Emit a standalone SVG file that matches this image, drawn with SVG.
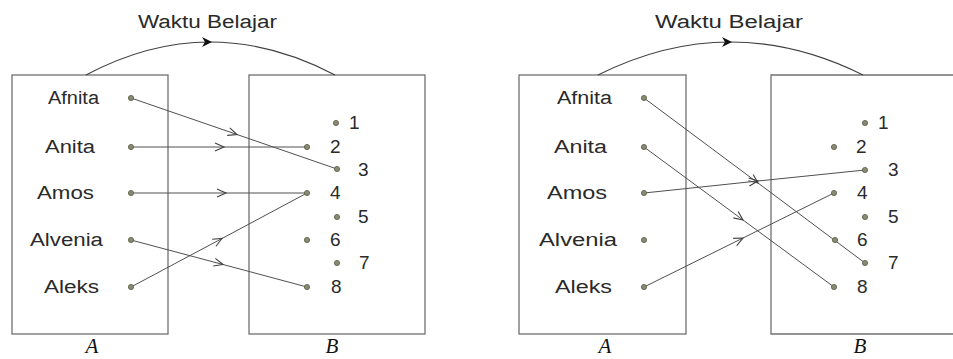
<svg xmlns="http://www.w3.org/2000/svg" width="953" height="359" viewBox="0 0 953 359">
<style>
.box{fill:none;stroke:#707070;stroke-width:1.3}
.ln{fill:none;stroke:#505050;stroke-width:1;marker-mid:url(#chev)}
.arc{fill:none;stroke:#404040;stroke-width:1.1;marker-mid:url(#tri)}
.dot{fill:#8a8a70;stroke:#5a5a48;stroke-width:0.8}
.lbl{font-family:"Liberation Sans",Arial,sans-serif;font-size:18px;fill:#2a2a2a}
.num{font-family:"Liberation Sans",Arial,sans-serif;font-size:19px;fill:#2a2a2a}
.set{font-family:"Liberation Serif","Times New Roman",serif;font-style:italic;font-size:21px;fill:#111;text-anchor:middle}
</style>
<defs>
<marker id="chev" markerUnits="userSpaceOnUse" markerWidth="12" markerHeight="12" refX="9" refY="4" orient="auto" viewBox="0 0 12 8" overflow="visible">
<path d="M0,0 L9,4 L0,8" fill="none" stroke="#404040" stroke-width="1.1"/>
</marker>
<marker id="tri" markerUnits="userSpaceOnUse" markerWidth="14" markerHeight="12" refX="8" refY="5" orient="auto" viewBox="0 0 14 10" overflow="visible">
<path d="M0,0 L10,5 L0,10 L3,5 Z" fill="#111"/>
</marker>
</defs>

<!-- LEFT DIAGRAM -->
<g id="left-setA">
<rect class="box" x="12" y="75" width="156" height="259"/>
<text class="lbl" x="48" y="104" textLength="51" lengthAdjust="spacingAndGlyphs">Afnita</text>
<text class="lbl" x="45" y="153" textLength="50" lengthAdjust="spacingAndGlyphs">Anita</text>
<text class="lbl" x="37" y="199" textLength="57" lengthAdjust="spacingAndGlyphs">Amos</text>
<text class="lbl" x="30" y="246" textLength="73" lengthAdjust="spacingAndGlyphs">Alvenia</text>
<text class="lbl" x="44" y="293" textLength="55" lengthAdjust="spacingAndGlyphs">Aleks</text>
<text class="set" x="92" y="353">A</text>
</g>
<g id="left-setB">
<rect class="box" x="249" y="75" width="176" height="259"/>
<text class="num" x="349" y="129">1</text>
<text class="num" x="330" y="153">2</text>
<text class="num" x="358" y="176">3</text>
<text class="num" x="330" y="199">4</text>
<text class="num" x="358" y="223">5</text>
<text class="num" x="330" y="246">6</text>
<text class="num" x="359" y="269">7</text>
<text class="num" x="331" y="293">8</text>
<text class="set" x="332" y="353">B</text>
</g>
<g id="left-title">
<text class="lbl" x="138" y="28" textLength="139" lengthAdjust="spacingAndGlyphs">Waktu Belajar</text>
</g>
<g id="left-connectors">
<path class="arc" d="M86,75 Q148,42 210,42 Q272,42 335,75"/>
<path class="ln" d="M131,98 L237,134.5 L337,169"/>
<path class="ln" d="M131,147 L224,147 L307,147"/>
<path class="ln" d="M131,193 L226,193 L307,193"/>
<path class="ln" d="M131,240 L223,264.5 L307,287"/>
<path class="ln" d="M131,287 L222,238.5 L307,193"/>
</g>
<g id="left-dots">
<circle class="dot" cx="131" cy="98" r="2.6"/>
<circle class="dot" cx="131" cy="147" r="2.6"/>
<circle class="dot" cx="131" cy="193" r="2.6"/>
<circle class="dot" cx="131" cy="240" r="2.6"/>
<circle class="dot" cx="131" cy="287" r="2.6"/>
<circle class="dot" cx="336" cy="123" r="2.6"/>
<circle class="dot" cx="307" cy="147" r="2.6"/>
<circle class="dot" cx="337" cy="169" r="2.6"/>
<circle class="dot" cx="307" cy="193" r="2.6"/>
<circle class="dot" cx="337" cy="217" r="2.6"/>
<circle class="dot" cx="307" cy="240" r="2.6"/>
<circle class="dot" cx="337" cy="263" r="2.6"/>
<circle class="dot" cx="307" cy="287" r="2.6"/>
</g>

<!-- RIGHT DIAGRAM -->
<g id="right-setA">
<rect class="box" x="519" y="75" width="167" height="259"/>
<text class="lbl" x="557" y="104" textLength="55" lengthAdjust="spacingAndGlyphs">Afnita</text>
<text class="lbl" x="554" y="153" textLength="53" lengthAdjust="spacingAndGlyphs">Anita</text>
<text class="lbl" x="547" y="199" textLength="60" lengthAdjust="spacingAndGlyphs">Amos</text>
<text class="lbl" x="539" y="246" textLength="78" lengthAdjust="spacingAndGlyphs">Alvenia</text>
<text class="lbl" x="555" y="293" textLength="57" lengthAdjust="spacingAndGlyphs">Aleks</text>
<text class="set" x="605" y="353">A</text>
</g>
<g id="right-setB">
<path class="box" d="M960,75 H771 V334 H960"/>
<text class="num" x="878" y="129">1</text>
<text class="num" x="856" y="153">2</text>
<text class="num" x="888" y="176">3</text>
<text class="num" x="857" y="199">4</text>
<text class="num" x="888" y="223">5</text>
<text class="num" x="857" y="246">6</text>
<text class="num" x="888" y="269">7</text>
<text class="num" x="857" y="293">8</text>
<text class="set" x="860" y="353">B</text>
</g>
<g id="right-title">
<text class="lbl" x="655" y="28" textLength="148" lengthAdjust="spacingAndGlyphs">Waktu Belajar</text>
</g>
<g id="right-connectors">
<path class="arc" d="M598,75 Q664,42 730,42 Q797,42 863,75"/>
<path class="ln" d="M644,98 L758,183 L865,263"/>
<path class="ln" d="M644,147 L743,220 L834,287"/>
<path class="ln" d="M644,193 L758,181 L865,170"/>
<path class="ln" d="M644,287 L743,238 L834,193"/>
</g>
<g id="right-dots">
<circle class="dot" cx="644" cy="98" r="2.6"/>
<circle class="dot" cx="644" cy="147" r="2.6"/>
<circle class="dot" cx="644" cy="193" r="2.6"/>
<circle class="dot" cx="644" cy="240" r="2.6"/>
<circle class="dot" cx="644" cy="287" r="2.6"/>
<circle class="dot" cx="865" cy="123" r="2.6"/>
<circle class="dot" cx="834" cy="147" r="2.6"/>
<circle class="dot" cx="865" cy="170" r="2.6"/>
<circle class="dot" cx="834" cy="193" r="2.6"/>
<circle class="dot" cx="865" cy="217" r="2.6"/>
<circle class="dot" cx="835" cy="240" r="2.6"/>
<circle class="dot" cx="865" cy="263" r="2.6"/>
<circle class="dot" cx="834" cy="287" r="2.6"/>
</g>
</svg>
